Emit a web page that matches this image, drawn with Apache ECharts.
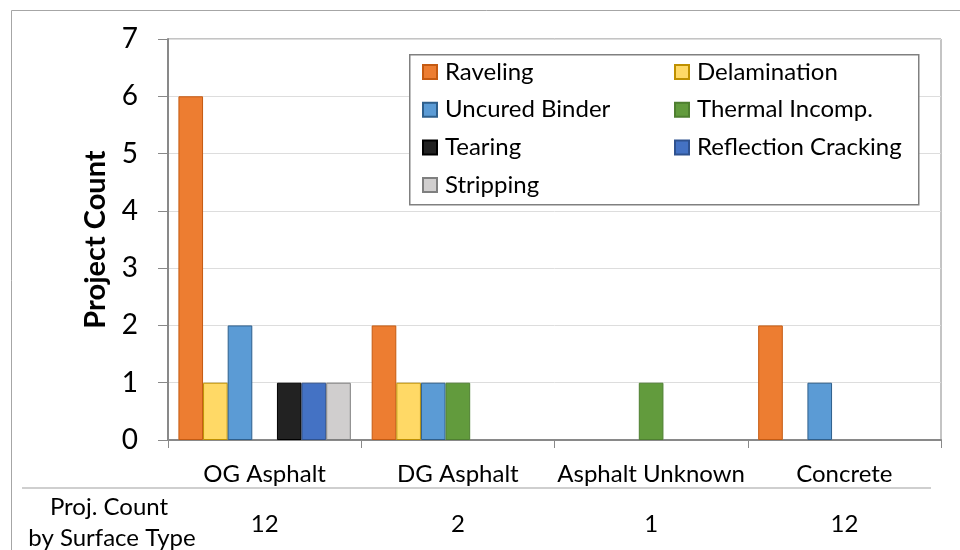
<!DOCTYPE html>
<html>
<head>
<meta charset="utf-8">
<script src="https://cdn.jsdelivr.net/npm/echarts@6/dist/echarts.min.js"></script>
<style>
html,body{margin:0;padding:0;background:#fff;}
#chart{width:960px;height:550px;}
</style>
</head>
<body>
<div id="chart"></div>
<script>
const categories = ['OG Asphalt', 'DG Asphalt', 'Asphalt Unknown', 'Concrete'];
const projCounts = ['12', '2', '1', '12'];
const yTicks = [0, 1, 2, 3, 4, 5, 6, 7];
const seriesNames = ['Raveling', 'Delamination', 'Uncured Binder', 'Thermal Incomp.', 'Tearing', 'Reflection Cracking', 'Stripping'];
const raveling = [6, 2, 0, 2];
const delamination = [1, 1, 0, 0];
const uncuredBinder = [2, 1, 0, 1];
const thermalIncomp = [0, 1, 1, 0];
const tearing = [1, 0, 0, 0];
const reflectionCracking = [1, 0, 0, 0];
const stripping = [1, 0, 0, 0];
const seriesValues = [raveling, delamination, uncuredBinder, thermalIncomp, tearing, reflectionCracking, stripping];

const fills = ['#ED7D31', '#FFD966', '#5B9BD5', '#629B3D', '#222222', '#4472C4', '#D0CECE'];
const borders = ['#C55A11', '#BF9000', '#2E5F8C', '#4E7F30', '#000000', '#2F528F', '#7F7F7F'];
const FONT = 'Lato, "Open Sans", sans-serif';

const chart = echarts.init(document.getElementById('chart'), null, {renderer: 'canvas'});

const series = seriesNames.map((n, i) => ({
  name: n,
  type: 'bar',
  xAxisIndex: 0,
  yAxisIndex: 0,
  barGap: '0%',
  barCategoryGap: '10.8%',
  data: seriesValues[i].map(v => v === 0 ? null : v),
  itemStyle: {color: fills[i], borderColor: borders[i], borderWidth: 1},
  emphasis: {disabled: true}
}));

const leftCol = [0, 2, 4, 6].map(i => seriesNames[i]);
const rightCol = [1, 3, 5].map(i => seriesNames[i]);
const legendBase = {
  orient: 'vertical',
  icon: 'rect',
  itemWidth: 14,
  itemHeight: 14,
  itemGap: 13.7,
  selectedMode: false,
  padding: 0,
  textStyle: {fontFamily: FONT, fontSize: 24, color: '#000', lineHeight: 22, padding: [0, 0, 0, 3]}
};

chart.setOption({
  animation: false,
  textStyle: {fontFamily: FONT},
  grid: {left: 168, right: 19, top: 39, bottom: 110, show: true, borderColor: '#898989', borderWidth: 1, containLabel: false},
  legend: [
    Object.assign({}, legendBase, {data: leftCol, left: 422, top: 60}),
    Object.assign({}, legendBase, {data: rightCol, left: 674, top: 60})
  ],
  xAxis: [
    {
      type: 'category',
      data: categories,
      position: 'bottom',
      axisLine: {lineStyle: {color: '#898989', width: 2}},
      axisTick: {show: true, length: 8, lineStyle: {color: '#898989', width: 1}},
      axisLabel: {color: '#000', fontSize: 24, margin: 22, interval: 0, fontFamily: FONT},
      splitLine: {show: false}
    },
    {
      type: 'category',
      data: projCounts,
      position: 'bottom',
      offset: 72,
      axisLine: {show: false},
      axisTick: {show: false},
      axisLabel: {color: '#000', fontSize: 24, margin: 0, interval: 0, fontFamily: FONT},
      splitLine: {show: false}
    }
  ],
  yAxis: {
    type: 'value',
    min: 0,
    max: 7,
    interval: 1,
    name: 'Project Count',
    nameLocation: 'middle',
    nameGap: 58,
    nameTextStyle: {fontFamily: FONT, fontSize: 29, fontWeight: 'bold', color: '#000'},
    axisLine: {show: true, lineStyle: {color: '#898989', width: 2}},
    axisTick: {show: true, length: 10, lineStyle: {color: '#898989', width: 1}},
    axisLabel: {color: '#000', fontSize: 28, margin: 30, fontFamily: FONT,
      formatter: v => yTicks.indexOf(v) >= 0 ? String(v) : ''},
    splitLine: {show: true, lineStyle: {color: '#DDDDDD', width: 1}}
  },
  series: series,
  graphic: [
    {type: 'rect', left: 9, top: 8, shape: {width: 960, height: 560}, style: {fill: 'none', stroke: '#A6A6A6', lineWidth: 1}, silent: true, z: -1},
    {type: 'rect', left: 409, top: 54, shape: {width: 509, height: 150}, style: {fill: '#fff', stroke: '#808080', lineWidth: 1.5}, silent: true, z: 4},
    {type: 'line', shape: {x1: 22, y1: 488, x2: 931, y2: 488}, style: {stroke: '#BFBFBF', lineWidth: 1.5}, silent: true},
    {type: 'text', x: 109, y: 507, style: {text: 'Proj. Count', font: '24px ' + FONT, fill: '#000', align: 'center', verticalAlign: 'middle'}, silent: true},
    {type: 'text', x: 112, y: 538, style: {text: 'by Surface Type', font: '24px ' + FONT, fill: '#000', align: 'center', verticalAlign: 'middle'}, silent: true}
  ]
});
</script>
</body>
</html>
